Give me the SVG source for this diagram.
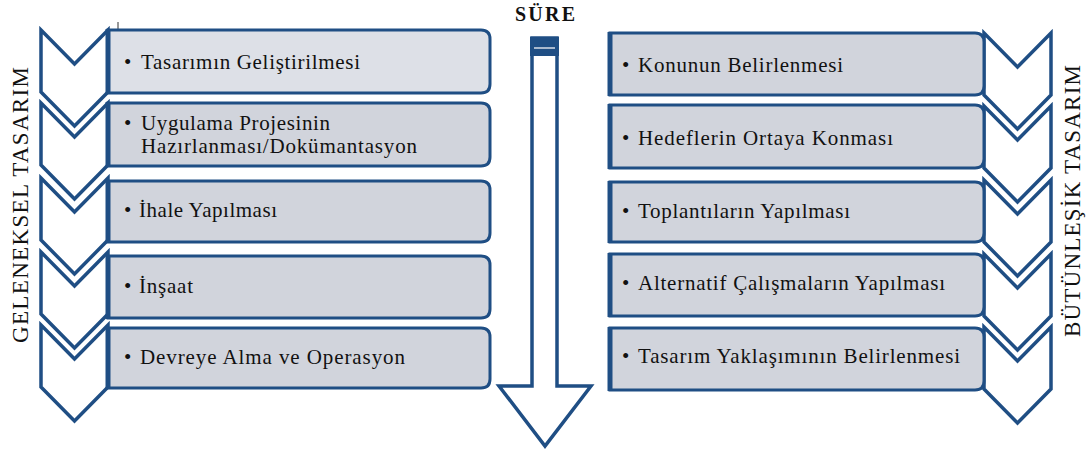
<svg xmlns="http://www.w3.org/2000/svg" width="1090" height="454" viewBox="0 0 1090 454">
<style>
.chev{fill:#fff;stroke:#1F4E84;stroke-width:3.5;stroke-linejoin:miter}
.box{fill:#D1D4DC;stroke:#1F4E84;stroke-width:3}
.box1{fill:#DDE0E7}
.edge{stroke:#1F4E84;stroke-width:5}
.t{font-family:'Liberation Serif','DejaVu Serif',serif;font-size:21px;fill:#111}
.lab{font-family:'Liberation Serif','DejaVu Serif',serif;font-size:23px;fill:#111}
</style>
<defs>
<polygon id="chev" points="0,0 33.5,34 67,0 67,62 33.5,96 0,62"/>
</defs>
<rect width="1090" height="454" fill="#fff"/>
<line x1="118" y1="22" x2="118" y2="30" stroke="#333" stroke-width="1"/>

<g id="label-left"><text class="lab" transform="translate(28,343) rotate(-90)" textLength="276" lengthAdjust="spacing">GELENEKSEL TASARIM</text></g>
<g id="label-right"><text class="lab" transform="translate(1080,337) rotate(-90)" textLength="272" lengthAdjust="spacing">BÜTÜNLEŞİK TASARIM</text></g>

<g id="chevrons-left">
<use href="#chev" class="chev" x="41" y="30"/>
<use href="#chev" class="chev" x="41" y="103"/>
<use href="#chev" class="chev" x="41" y="178"/>
<use href="#chev" class="chev" x="41" y="252"/>
<use href="#chev" class="chev" x="41" y="325"/>
</g>
<g id="chevrons-right">
<use href="#chev" class="chev" x="984" y="33"/>
<use href="#chev" class="chev" x="984" y="106"/>
<use href="#chev" class="chev" x="984" y="180"/>
<use href="#chev" class="chev" x="984" y="254"/>
<use href="#chev" class="chev" x="984" y="327"/>
</g>

<g id="box-l1"><path class="box box1" d="M108,30 H481 Q490,30 490,39 V84 Q490,93 481,93 H108 Z"/><line class="edge" x1="108" y1="29" x2="108" y2="94"/>
<text class="t" y="69"><tspan x="124">•</tspan><tspan x="141" textLength="219" lengthAdjust="spacing">Tasarımın Geliştirilmesi</tspan></text></g>
<g id="box-l2"><path class="box" d="M108,103 H481 Q490,103 490,112 V157 Q490,166 481,166 H108 Z"/><line class="edge" x1="108" y1="102" x2="108" y2="167"/>
<text class="t"><tspan x="124" y="130">•</tspan><tspan x="141" y="130" textLength="189" lengthAdjust="spacing">Uygulama Projesinin</tspan><tspan x="141" y="153" textLength="276" lengthAdjust="spacing">Hazırlanması/Dokümantasyon</tspan></text></g>
<g id="box-l3"><path class="box" d="M108,181 H481 Q490,181 490,190 V233 Q490,242 481,242 H108 Z"/><line class="edge" x1="108" y1="180" x2="108" y2="243"/>
<text class="t" y="217"><tspan x="124">•</tspan><tspan x="139" textLength="138" lengthAdjust="spacing">İhale Yapılması</tspan></text></g>
<g id="box-l4"><path class="box" d="M108,256 H481 Q490,256 490,265 V309 Q490,318 481,318 H108 Z"/><line class="edge" x1="108" y1="255" x2="108" y2="319"/>
<text class="t" y="293"><tspan x="124">•</tspan><tspan x="139" textLength="54" lengthAdjust="spacing">İnşaat</tspan></text></g>
<g id="box-l5"><path class="box" d="M108,328 H481 Q490,328 490,337 V379 Q490,388 481,388 H108 Z"/><line class="edge" x1="108" y1="327" x2="108" y2="389"/>
<text class="t" y="364"><tspan x="124">•</tspan><tspan x="140" textLength="265" lengthAdjust="spacing">Devreye Alma ve Operasyon</tspan></text></g>

<g id="box-r1"><path class="box" d="M610,33 H975 Q984,33 984,42 V86 Q984,95 975,95 H610 Z"/><line class="edge" x1="610" y1="32" x2="610" y2="96"/>
<text class="t" y="72"><tspan x="622">•</tspan><tspan x="638" textLength="205" lengthAdjust="spacing">Konunun Belirlenmesi</tspan></text></g>
<g id="box-r2"><path class="box" d="M610,105 H975 Q984,105 984,114 V159 Q984,168 975,168 H610 Z"/><line class="edge" x1="610" y1="104" x2="610" y2="169"/>
<text class="t" y="145"><tspan x="622">•</tspan><tspan x="638" textLength="255" lengthAdjust="spacing">Hedeflerin Ortaya Konması</tspan></text></g>
<g id="box-r3"><path class="box" d="M610,182 H975 Q984,182 984,191 V233 Q984,242 975,242 H610 Z"/><line class="edge" x1="610" y1="181" x2="610" y2="243"/>
<text class="t" y="218"><tspan x="622">•</tspan><tspan x="638" textLength="212" lengthAdjust="spacing">Toplantıların Yapılması</tspan></text></g>
<g id="box-r4"><path class="box" d="M610,254 H975 Q984,254 984,263 V307 Q984,316 975,316 H610 Z"/><line class="edge" x1="610" y1="253" x2="610" y2="317"/>
<text class="t" y="290"><tspan x="622">•</tspan><tspan x="638" textLength="307" lengthAdjust="spacing">Alternatif Çalışmaların Yapılması</tspan></text></g>
<g id="box-r5"><path class="box" d="M610,328 H975 Q984,328 984,337 V381 Q984,390 975,390 H610 Z"/><line class="edge" x1="610" y1="327" x2="610" y2="391"/>
<text class="t" y="363"><tspan x="622">•</tspan><tspan x="638" textLength="322" lengthAdjust="spacing">Tasarım Yaklaşımının Belirlenmesi</tspan></text></g>

<g id="time-arrow">
<text x="545" y="21" text-anchor="middle" font-family="Liberation Serif, DejaVu Serif, serif" font-size="20" font-weight="bold" fill="#111" textLength="60" lengthAdjust="spacing">SÜRE</text>
<polygon points="532,38 557,38 557,386 591,386 545,446 499,386 532,386" fill="#fff" stroke="#1F4E84" stroke-width="3.5"/>
<rect x="530" y="37" width="29" height="19" fill="#1F4E84"/>
<line x1="534" y1="48" x2="555" y2="48" stroke="#A9B9CE" stroke-width="2"/>
</g>
</svg>
